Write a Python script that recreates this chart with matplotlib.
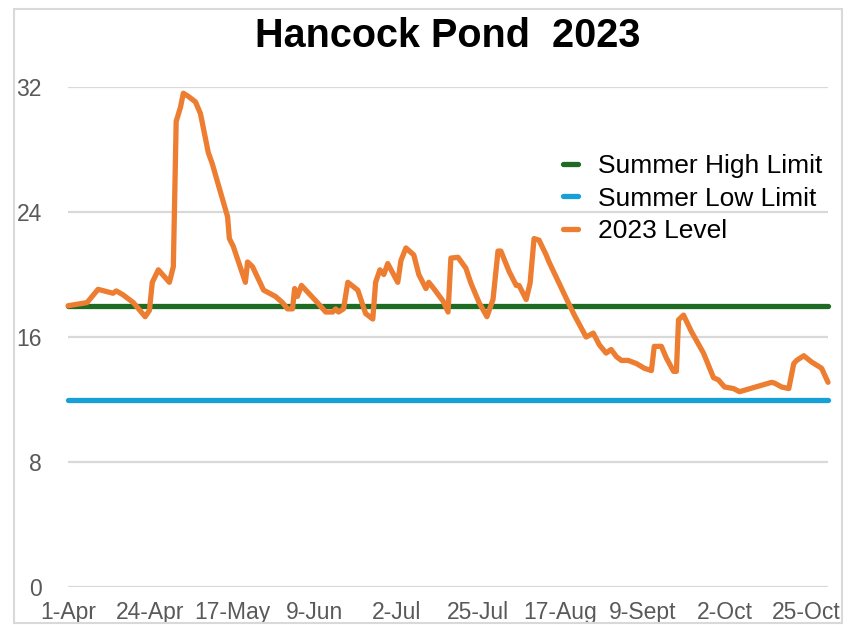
import matplotlib
matplotlib.use("Agg")
import matplotlib.pyplot as plt
from matplotlib.patches import Rectangle

plt.rcParams['font.family'] = ['Liberation Sans', 'DejaVu Sans']

# DATA
title = "Hancock Pond  2023"
tick_days = [0, 23, 46, 69, 92, 115, 138, 161, 184, 207]
tick_labels = ["1-Apr", "24-Apr", "17-May", "9-Jun", "2-Jul", "25-Jul",
               "17-Aug", "9-Sept", "2-Oct", "25-Oct"]

season_days = [0, 213]
high_limit = [18, 18]
low_limit = [12, 12]

# days since 1-Apr, pond level
level_days = [0, 5.3, 8.4, 12.6, 13.5, 15.4, 18.3, 21.6, 22.8, 23.6,
              25.3, 28.4, 29.5, 30.3, 31.5, 32.3, 33.7, 35.7, 37.1, 39.3,
              40.4, 44.7, 45.2, 46.3, 49.7, 50.3, 51.7, 54.8, 58.1, 60.1,
              61.5, 62.9, 63.5, 64.3, 65.4, 69.9, 72.2, 74.2, 75.0, 75.8,
              77.2, 78.4, 81.2, 83.4, 85.4, 86.2, 87.4, 88.5, 89.6, 92.4,
              93.3, 94.7, 96.9, 98.3, 100.3, 101.1, 102.5, 105.1, 106.5, 107.3,
              109.3, 111.5, 112.9, 115.2, 117.4, 119.1, 120.5, 121.3, 123.6, 125.6,
              126.4, 128.4, 129.5, 130.6, 132.0, 134.0, 134.8, 140.2, 141.9, 145.2,
              147.2, 148.9, 150.8, 152.2, 153.7, 155.1, 157.0, 159.3, 161.5, 163.5,
              164.3, 166.3, 167.7, 169.7, 170.5, 171.1, 172.5, 174.7, 178.1, 180.9,
              182.3, 184.0, 186.5, 188.2, 197.2, 198.0, 200.0, 202.0, 203.4, 204.2,
              206.2, 208.4, 211.2, 213.0]
level_2023 = [18.0, 18.2, 19.05, 18.8, 18.95, 18.7, 18.2, 17.3, 17.7, 19.5,
              20.3, 19.5, 20.5, 29.8, 30.7, 31.6, 31.4, 31.05, 30.3, 27.8,
              27.1, 23.7, 22.3, 21.8, 19.5, 20.8, 20.5, 19.0, 18.6, 18.2,
              17.8, 17.8, 19.1, 18.6, 19.3, 18.2, 17.6, 17.6, 17.8, 17.6,
              17.8, 19.5, 19.0, 17.5, 17.15, 19.5, 20.3, 20.0, 20.7, 19.5,
              20.9, 21.7, 21.25, 20.0, 19.1, 19.5, 19.1, 18.3, 17.6, 21.05,
              21.1, 20.4, 19.45, 18.2, 17.3, 18.4, 21.5, 21.5, 20.2, 19.3,
              19.3, 18.4, 19.45, 22.3, 22.2, 21.25, 20.8, 18.2, 17.4, 16.0,
              16.25, 15.5, 14.97, 15.2, 14.74, 14.5, 14.5, 14.3, 14.0, 13.85,
              15.4, 15.4, 14.65, 13.8, 13.8, 17.1, 17.4, 16.35, 14.97, 13.4,
              13.25, 12.8, 12.7, 12.5, 13.1, 13.05, 12.8, 12.7, 14.3, 14.5,
              14.8, 14.4, 14.0, 13.1]

# PLOT
fig = plt.figure(figsize=(8.51, 6.25), dpi=100)
ax = fig.add_axes([0.080, 0.0608, 0.893, 0.800])

ax.plot(season_days, high_limit, color='#1e6b24', lw=3.8,
        solid_capstyle='round', label='Summer High Limit', clip_on=False, zorder=3)
ax.plot(season_days, low_limit, color='#17a0d8', lw=3.8,
        solid_capstyle='round', label='Summer Low Limit', clip_on=False, zorder=3)
ax.plot(level_days, level_2023, color='#ed7d31', lw=3.8,
        solid_capstyle='round', solid_joinstyle='round',
        label='2023 Level', clip_on=False, zorder=4)

ax.set_xlim(0, 213)
ax.set_ylim(0, 32)
ax.set_yticks([0, 8, 16, 24, 32])
ax.set_xticks(tick_days)
ax.set_xticklabels(tick_labels)
ax.grid(axis='y', color='#d9d9d9', lw=1.6)
ax.set_axisbelow(True)
for s in ax.spines.values():
    s.set_visible(False)
ax.tick_params(axis='y', length=0, pad=19, labelsize=16.5, labelcolor='#595959')
ax.tick_params(axis='x', length=0, pad=10, labelsize=16.5, labelcolor='#595959')

fig.text(448 / 851, 1 - 36 / 625, title, ha='center', va='center',
         fontsize=28.5, fontweight='bold', color='black')

ax.legend(loc='upper left', bbox_to_anchor=(563 / 851, 1 - 154 / 625),
          bbox_transform=fig.transFigure, frameon=False, fontsize=19,
          handlelength=0.55, handletextpad=0.78, labelspacing=0.33,
          borderpad=0, borderaxespad=0)

fig.add_artist(Rectangle((14 / 851, 1 - 622.5 / 625), (842 - 14) / 851, (622.5 - 9) / 625,
                         transform=fig.transFigure, fill=False,
                         edgecolor='#d9d9d9', lw=1.5))

fig.savefig("out.png", dpi=100)
